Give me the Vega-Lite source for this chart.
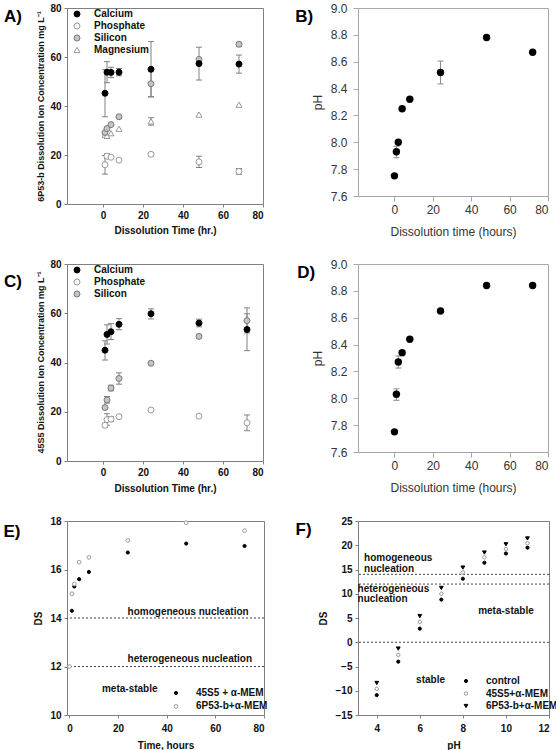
{
"$schema": "https://vega.github.io/schema/vega-lite/v6.json",
"autosize": {"type": "none"},
"padding": {"left": 67, "top": 8, "right": 489, "bottom": 742},
"background": "white",
"bounds": "flush",
"columns": 2,
"spacing": {"row": 60, "column": 94},
"resolve": {"scale": {"shape": "independent", "fill": "independent", "stroke": "independent", "size": "independent", "x": "independent", "y": "independent"}, "legend": {"shape": "independent", "fill": "independent", "stroke": "independent", "size": "independent"}},
"datasets": {
"A": [
{"ion":"Magnesium","t":1,"v":28.3},{"ion":"Magnesium","t":2,"v":27.8},{"ion":"Magnesium","t":4,"v":28.9},{"ion":"Magnesium","t":8,"v":30.7},{"ion":"Magnesium","t":24,"v":33.7,"lo":32.2,"hi":35.2},{"ion":"Magnesium","t":48,"v":36.5},{"ion":"Magnesium","t":68,"v":40.5},
{"ion":"Phosphate","t":1,"v":16.0,"lo":12.2,"hi":19.8},{"ion":"Phosphate","t":2,"v":19.5,"lo":18.6,"hi":20.5},{"ion":"Phosphate","t":4,"v":19.1},{"ion":"Phosphate","t":8,"v":17.9},{"ion":"Phosphate","t":24,"v":20.3,"lo":19.6,"hi":21.0},{"ion":"Phosphate","t":48,"v":17.2,"lo":14.9,"hi":19.5},{"ion":"Phosphate","t":68,"v":13.3,"lo":12.1,"hi":14.5},
{"ion":"Silicon","t":1,"v":29.2},{"ion":"Silicon","t":2,"v":30.8},{"ion":"Silicon","t":4,"v":32.4},{"ion":"Silicon","t":8,"v":35.6},{"ion":"Silicon","t":24,"v":49.1,"lo":43.8,"hi":54.3},{"ion":"Silicon","t":48,"v":59.0},{"ion":"Silicon","t":68,"v":65.2,"lo":64.4,"hi":66.0},
{"ion":"Calcium","t":1,"v":45.2,"lo":35.6,"hi":54.8},{"ion":"Calcium","t":2,"v":53.8,"lo":49.5,"hi":58.1},{"ion":"Calcium","t":4,"v":53.7,"lo":51.6,"hi":55.8},{"ion":"Calcium","t":8,"v":53.8,"lo":52.3,"hi":55.3},{"ion":"Calcium","t":24,"v":55.0,"lo":43.7,"hi":66.3},{"ion":"Calcium","t":48,"v":57.3,"lo":50.6,"hi":64.0},{"ion":"Calcium","t":68,"v":57.1,"lo":53.4,"hi":60.8}
],
"C": [
{"ion":"Phosphate","t":1,"v":14.5,"lo":13.8,"hi":15.3},{"ion":"Phosphate","t":2,"v":16.8,"lo":14.5,"hi":19.2},{"ion":"Phosphate","t":4,"v":17.0,"lo":16.0,"hi":18.0},{"ion":"Phosphate","t":8,"v":18.0},{"ion":"Phosphate","t":24,"v":20.7},{"ion":"Phosphate","t":48,"v":18.2},{"ion":"Phosphate","t":72,"v":15.5,"lo":12.3,"hi":18.7},
{"ion":"Silicon","t":1,"v":21.7},{"ion":"Silicon","t":2,"v":24.8,"lo":23.5,"hi":26.2},{"ion":"Silicon","t":4,"v":29.6,"lo":28.5,"hi":30.8},{"ion":"Silicon","t":8,"v":33.5,"lo":31.2,"hi":35.8},{"ion":"Silicon","t":24,"v":39.7},{"ion":"Silicon","t":48,"v":50.6,"lo":49.8,"hi":51.4},{"ion":"Silicon","t":72,"v":57.0,"lo":52.0,"hi":62.2},
{"ion":"Calcium","t":1,"v":45.0,"lo":41.0,"hi":48.8},{"ion":"Calcium","t":2,"v":51.4,"lo":47.5,"hi":55.3},{"ion":"Calcium","t":4,"v":52.5,"lo":49.3,"hi":55.8},{"ion":"Calcium","t":8,"v":55.5,"lo":53.3,"hi":57.8},{"ion":"Calcium","t":24,"v":59.8,"lo":57.7,"hi":61.8},{"ion":"Calcium","t":48,"v":56.0,"lo":54.5,"hi":57.6},{"ion":"Calcium","t":72,"v":53.4,"lo":44.8,"hi":59.8}
],
"B": [{"t":0,"v":7.75},{"t":1,"v":7.93,"lo":7.885,"hi":7.97},{"t":2,"v":8.0},{"t":4,"v":8.25},{"t":8,"v":8.32},{"t":24,"v":8.52,"lo":8.435,"hi":8.605},{"t":48,"v":8.78},{"t":72,"v":8.67}],
"D": [{"t":0,"v":7.75},{"t":1,"v":8.03,"lo":7.985,"hi":8.07},{"t":2,"v":8.27,"lo":8.225,"hi":8.315},{"t":4,"v":8.34},{"t":8,"v":8.44},{"t":24,"v":8.65},{"t":48,"v":8.84},{"t":72,"v":8.84}],
"E": [
{"s":"45S5 + α-MEM","t":1,"ds":14.3},{"s":"45S5 + α-MEM","t":2,"ds":15.3},{"s":"45S5 + α-MEM","t":4,"ds":15.6},{"s":"45S5 + α-MEM","t":8,"ds":15.9},{"s":"45S5 + α-MEM","t":24,"ds":16.7},{"s":"45S5 + α-MEM","t":48,"ds":17.07},{"s":"45S5 + α-MEM","t":72,"ds":16.97},
{"s":"6P53-b+α-MEM","t":0,"ds":12.0},{"s":"6P53-b+α-MEM","t":1,"ds":15.0},{"s":"6P53-b+α-MEM","t":2,"ds":15.4},{"s":"6P53-b+α-MEM","t":4,"ds":16.3},{"s":"6P53-b+α-MEM","t":8,"ds":16.5},{"s":"6P53-b+α-MEM","t":24,"ds":17.2},{"s":"6P53-b+α-MEM","t":48,"ds":17.93},{"s":"6P53-b+α-MEM","t":72,"ds":17.6}
],
"F": [
{"s":"control","ph":4,"ds":-10.9},{"s":"control","ph":5,"ds":-4.0},{"s":"control","ph":6,"ds":2.8},{"s":"control","ph":7,"ds":8.8},{"s":"control","ph":8,"ds":13.1},{"s":"control","ph":9,"ds":16.4},{"s":"control","ph":10,"ds":18.3},{"s":"control","ph":11,"ds":19.5},
{"s":"45S5+α-MEM","ph":4,"ds":-9.6},{"s":"45S5+α-MEM","ph":5,"ds":-2.6},{"s":"45S5+α-MEM","ph":6,"ds":4.2},{"s":"45S5+α-MEM","ph":7,"ds":10.0},{"s":"45S5+α-MEM","ph":8,"ds":14.4},{"s":"45S5+α-MEM","ph":9,"ds":17.5},{"s":"45S5+α-MEM","ph":10,"ds":19.2},{"s":"45S5+α-MEM","ph":11,"ds":20.4},
{"s":"6P53-b+α-MEM","ph":4,"ds":-8.4},{"s":"6P53-b+α-MEM","ph":5,"ds":-1.3},{"s":"6P53-b+α-MEM","ph":6,"ds":5.4},{"s":"6P53-b+α-MEM","ph":7,"ds":11.2},{"s":"6P53-b+α-MEM","ph":8,"ds":15.4},{"s":"6P53-b+α-MEM","ph":9,"ds":18.5},{"s":"6P53-b+α-MEM","ph":10,"ds":20.2},{"s":"6P53-b+α-MEM","ph":11,"ds":21.4}
]
},
"config": {
"font": "Liberation Sans",
"view": {"stroke": "#808080", "strokeWidth": 1},
"axis": {"grid": false, "domain": false, "labelOverlap": false, "tickColor": "#808080", "tickSize": 3, "labelFont": "Liberation Sans", "labelFontSize": 10, "labelFontWeight": "bold", "labelColor": "#111", "labelPadding": 3, "titleFont": "Liberation Sans", "titleFontSize": 10, "titleFontWeight": "bold", "titleColor": "#111"},
"legend": {"padding": 0, "labelFont": "Liberation Sans", "labelFontSize": 10, "labelFontWeight": "bold", "labelColor": "#111", "symbolStrokeWidth": 1},
"text": {"font": "Liberation Sans"}
},
"concat": [
{"width": 196, "height": 196, "data": {"name": "A"},
"layer": [
{"transform": [{"filter": "isValid(datum.lo)"}], "mark": {"type": "rule", "color": "#808080"},
"encoding": {"x": {"field": "t", "type": "quantitative"}, "y": {"field": "lo", "type": "quantitative"}, "y2": {"field": "hi"}}},
{"transform": [{"filter": "isValid(datum.lo)"}], "mark": {"type": "tick", "orient": "horizontal", "color": "#808080", "size": 6, "thickness": 1, "opacity": 1},
"encoding": {"x": {"field": "t", "type": "quantitative"}, "y": {"field": "lo", "type": "quantitative"}}},
{"transform": [{"filter": "isValid(datum.hi)"}], "mark": {"type": "tick", "orient": "horizontal", "color": "#808080", "size": 6, "thickness": 1, "opacity": 1},
"encoding": {"x": {"field": "t", "type": "quantitative"}, "y": {"field": "hi", "type": "quantitative"}}},
{"mark": {"type": "point", "filled": true, "size": 36, "strokeWidth": 1, "opacity": 1},
"encoding": {
"x": {"field": "t", "type": "quantitative", "scale": {"domain": [-18, 80], "nice": false, "zero": false}, "axis": {"values": [0, 20, 40, 60, 80], "tickCount": 30, "format": "d", "title": "Dissolution Time (hr.)", "titleY": 26, "titleBaseline": "middle"}},
"y": {"field": "v", "type": "quantitative", "scale": {"domain": [0, 80], "nice": false}, "axis": {"values": [0, 20, 40, 60, 80], "tickCount": 30, "format": "d", "title": "6P53-b Dissolution Ion Concentration mg L⁻¹", "titleFontSize": 9, "titleX": -27, "titleY": 98, "titleBaseline": "middle", "titleAlign": "center"}},
"shape": {"field": "ion", "type": "nominal", "scale": {"domain": ["Calcium", "Phosphate", "Silicon", "Magnesium"], "range": ["circle", "circle", "circle", "triangle-up"]}, "legend": {"orient": "none", "legendX": 5, "legendY": 1, "title": null, "symbolSize": 36, "labelOffset": 12, "rowPadding": 2}},
"fill": {"field": "ion", "type": "nominal", "scale": {"domain": ["Calcium", "Phosphate", "Silicon", "Magnesium"], "range": ["#000000", "#ffffff", "#c4c4c4", "#ffffff"]}, "legend": {"orient": "none", "legendX": 5, "legendY": 1, "title": null, "symbolSize": 36, "labelOffset": 12, "rowPadding": 2}},
"stroke": {"field": "ion", "type": "nominal", "scale": {"domain": ["Calcium", "Phosphate", "Silicon", "Magnesium"], "range": ["#000000", "#9a9a9a", "#7a7a7a", "#9a9a9a"]}, "legend": {"orient": "none", "legendX": 5, "legendY": 1, "title": null, "symbolSize": 36, "labelOffset": 12, "rowPadding": 2}}
}},
{"data": {"values": [{}]}, "mark": {"type": "text", "fontSize": 17, "fontWeight": "bold", "align": "center", "baseline": "middle", "color": "#000"},
"encoding": {"x": {"datum": -45}, "y": {"datum": 76.3}, "text": {"value": "A)"}}}
]},
{"width": 190, "height": 188, "data": {"name": "B"}, "view": {"stroke": "#a6a6a6"},
"layer": [
{"transform": [{"filter": "isValid(datum.lo)"}], "mark": {"type": "rule", "color": "#8a8a8a"},
"encoding": {"x": {"field": "t", "type": "quantitative"}, "y": {"field": "lo", "type": "quantitative"}, "y2": {"field": "hi"}}},
{"transform": [{"filter": "isValid(datum.lo)"}], "mark": {"type": "tick", "orient": "horizontal", "color": "#8a8a8a", "size": 6, "thickness": 1, "opacity": 1},
"encoding": {"x": {"field": "t", "type": "quantitative"}, "y": {"field": "lo", "type": "quantitative"}}},
{"transform": [{"filter": "isValid(datum.hi)"}], "mark": {"type": "tick", "orient": "horizontal", "color": "#8a8a8a", "size": 6, "thickness": 1, "opacity": 1},
"encoding": {"x": {"field": "t", "type": "quantitative"}, "y": {"field": "hi", "type": "quantitative"}}},
{"mark": {"type": "point", "filled": true, "size": 55, "color": "#000", "opacity": 1},
"encoding": {
"x": {"field": "t", "type": "quantitative", "scale": {"domain": [-19, 80], "nice": false, "zero": false}, "axis": {"values": [0, 20, 40, 60, 80], "tickCount": 30, "format": "d", "title": "Dissolution time (hours)", "labelFontWeight": "normal", "labelFontSize": 12, "labelColor": "#333", "titleFontWeight": "normal", "titleFontSize": 12, "titleColor": "#333", "tickSize": 5, "tickColor": "#a6a6a6", "labelPadding": 3, "titleY": 35, "titleBaseline": "middle"}},
"y": {"field": "v", "type": "quantitative", "scale": {"domain": [7.6, 9.0], "nice": false, "zero": false}, "axis": {"values": [7.6, 7.8, 8.0, 8.2, 8.4, 8.6, 8.8, 9.0], "tickCount": 30, "format": ".1f", "title": "pH", "labelFontWeight": "normal", "labelFontSize": 12, "labelColor": "#333", "titleFontWeight": "normal", "titleFontSize": 12, "titleColor": "#333", "tickSize": 5, "tickColor": "#a6a6a6", "labelPadding": 6, "titleX": -41, "titleY": 94, "titleBaseline": "middle", "titleAlign": "center"}}
}},
{"data": {"values": [{}]}, "mark": {"type": "text", "fontSize": 17, "fontWeight": "bold", "align": "center", "baseline": "middle", "color": "#000"},
"encoding": {"x": {"datum": -47}, "y": {"datum": 8.933}, "text": {"value": "B)"}}}
]},
{"width": 196, "height": 197, "data": {"name": "C"},
"layer": [
{"transform": [{"filter": "isValid(datum.lo)"}], "mark": {"type": "rule", "color": "#808080"},
"encoding": {"x": {"field": "t", "type": "quantitative"}, "y": {"field": "lo", "type": "quantitative"}, "y2": {"field": "hi"}}},
{"transform": [{"filter": "isValid(datum.lo)"}], "mark": {"type": "tick", "orient": "horizontal", "color": "#808080", "size": 6, "thickness": 1, "opacity": 1},
"encoding": {"x": {"field": "t", "type": "quantitative"}, "y": {"field": "lo", "type": "quantitative"}}},
{"transform": [{"filter": "isValid(datum.hi)"}], "mark": {"type": "tick", "orient": "horizontal", "color": "#808080", "size": 6, "thickness": 1, "opacity": 1},
"encoding": {"x": {"field": "t", "type": "quantitative"}, "y": {"field": "hi", "type": "quantitative"}}},
{"mark": {"type": "point", "filled": true, "size": 36, "strokeWidth": 1, "opacity": 1},
"encoding": {
"x": {"field": "t", "type": "quantitative", "scale": {"domain": [-18, 80], "nice": false, "zero": false}, "axis": {"values": [0, 20, 40, 60, 80], "tickCount": 30, "format": "d", "title": "Dissolution Time (hr.)", "titleY": 27, "titleBaseline": "middle"}},
"y": {"field": "v", "type": "quantitative", "scale": {"domain": [0, 80], "nice": false}, "axis": {"values": [0, 20, 40, 60, 80], "tickCount": 30, "format": "d", "title": "45S5 Dissolution Ion Concentration mg L⁻¹", "titleFontSize": 9, "titleX": -27, "titleY": 98, "titleBaseline": "middle", "titleAlign": "center"}},
"shape": {"field": "ion", "type": "nominal", "scale": {"domain": ["Calcium", "Phosphate", "Silicon"], "range": ["circle", "circle", "circle"]}, "legend": {"orient": "none", "legendX": 5, "legendY": 1, "title": null, "symbolSize": 36, "labelOffset": 12, "rowPadding": 2}},
"fill": {"field": "ion", "type": "nominal", "scale": {"domain": ["Calcium", "Phosphate", "Silicon"], "range": ["#000000", "#ffffff", "#c4c4c4"]}, "legend": {"orient": "none", "legendX": 5, "legendY": 1, "title": null, "symbolSize": 36, "labelOffset": 12, "rowPadding": 2}},
"stroke": {"field": "ion", "type": "nominal", "scale": {"domain": ["Calcium", "Phosphate", "Silicon"], "range": ["#000000", "#9a9a9a", "#7a7a7a"]}, "legend": {"orient": "none", "legendX": 5, "legendY": 1, "title": null, "symbolSize": 36, "labelOffset": 12, "rowPadding": 2}}
}},
{"data": {"values": [{}]}, "mark": {"type": "text", "fontSize": 17, "fontWeight": "bold", "align": "center", "baseline": "middle", "color": "#000"},
"encoding": {"x": {"datum": -45}, "y": {"datum": 72.7}, "text": {"value": "C)"}}}
]},
{"width": 190, "height": 188, "data": {"name": "D"}, "view": {"stroke": "#a6a6a6"},
"layer": [
{"transform": [{"filter": "isValid(datum.lo)"}], "mark": {"type": "rule", "color": "#8a8a8a"},
"encoding": {"x": {"field": "t", "type": "quantitative"}, "y": {"field": "lo", "type": "quantitative"}, "y2": {"field": "hi"}}},
{"transform": [{"filter": "isValid(datum.lo)"}], "mark": {"type": "tick", "orient": "horizontal", "color": "#8a8a8a", "size": 6, "thickness": 1, "opacity": 1},
"encoding": {"x": {"field": "t", "type": "quantitative"}, "y": {"field": "lo", "type": "quantitative"}}},
{"transform": [{"filter": "isValid(datum.hi)"}], "mark": {"type": "tick", "orient": "horizontal", "color": "#8a8a8a", "size": 6, "thickness": 1, "opacity": 1},
"encoding": {"x": {"field": "t", "type": "quantitative"}, "y": {"field": "hi", "type": "quantitative"}}},
{"mark": {"type": "point", "filled": true, "size": 55, "color": "#000", "opacity": 1},
"encoding": {
"x": {"field": "t", "type": "quantitative", "scale": {"domain": [-19, 80], "nice": false, "zero": false}, "axis": {"values": [0, 20, 40, 60, 80], "tickCount": 30, "format": "d", "title": "Dissolution time (hours)", "labelFontWeight": "normal", "labelFontSize": 12, "labelColor": "#333", "titleFontWeight": "normal", "titleFontSize": 12, "titleColor": "#333", "tickSize": 5, "tickColor": "#a6a6a6", "labelPadding": 3, "titleY": 35, "titleBaseline": "middle"}},
"y": {"field": "v", "type": "quantitative", "scale": {"domain": [7.6, 9.0], "nice": false, "zero": false}, "axis": {"values": [7.6, 7.8, 8.0, 8.2, 8.4, 8.6, 8.8, 9.0], "tickCount": 30, "format": ".1f", "title": "pH", "labelFontWeight": "normal", "labelFontSize": 12, "labelColor": "#333", "titleFontWeight": "normal", "titleFontSize": 12, "titleColor": "#333", "tickSize": 5, "tickColor": "#a6a6a6", "labelPadding": 6, "titleX": -41, "titleY": 94, "titleBaseline": "middle", "titleAlign": "center"}}
}},
{"data": {"values": [{}]}, "mark": {"type": "text", "fontSize": 17, "fontWeight": "bold", "align": "center", "baseline": "middle", "color": "#000"},
"encoding": {"x": {"datum": -46}, "y": {"datum": 8.933}, "text": {"value": "D)"}}}
]},
{"width": 197, "height": 194, "data": {"name": "E"},
"layer": [
{"data": {"values": [{}]}, "mark": {"type": "rule", "color": "#444", "strokeDash": [2, 2]}, "encoding": {"y": {"datum": 14}}},
{"data": {"values": [{}]}, "mark": {"type": "rule", "color": "#444", "strokeDash": [2, 2]}, "encoding": {"y": {"datum": 12}}},
{"mark": {"type": "point", "filled": true, "strokeWidth": 1, "opacity": 1},
"encoding": {
"x": {"field": "t", "type": "quantitative", "scale": {"domain": [-1, 80], "nice": false, "zero": false}, "axis": {"values": [0, 20, 40, 60, 80], "tickCount": 30, "format": "d", "title": "Time, hours", "labelPadding": 5, "titleY": 30, "titleBaseline": "middle"}},
"y": {"field": "ds", "type": "quantitative", "scale": {"domain": [10, 18], "nice": false, "zero": false}, "axis": {"values": [10, 12, 14, 16, 18], "tickCount": 30, "format": "d", "title": "DS", "titleX": -29, "titleY": 97, "titleBaseline": "middle", "titleAlign": "center"}},
"shape": {"field": "s", "type": "nominal", "scale": {"domain": ["45S5 + α-MEM", "6P53-b+α-MEM"], "range": ["circle", "circle"]}, "legend": {"orient": "none", "legendX": 104, "legendY": 167, "title": null, "labelOffset": 15, "rowPadding": 3.4}},
"size": {"field": "s", "type": "nominal", "scale": {"domain": ["45S5 + α-MEM", "6P53-b+α-MEM"], "range": [10, 14]}, "legend": {"orient": "none", "legendX": 104, "legendY": 167, "title": null, "labelOffset": 15, "rowPadding": 3.4}},
"fill": {"field": "s", "type": "nominal", "scale": {"domain": ["45S5 + α-MEM", "6P53-b+α-MEM"], "range": ["#000000", "#ffffff"]}, "legend": {"orient": "none", "legendX": 104, "legendY": 167, "title": null, "labelOffset": 15, "rowPadding": 3.4}},
"stroke": {"field": "s", "type": "nominal", "scale": {"domain": ["45S5 + α-MEM", "6P53-b+α-MEM"], "range": ["#000000", "#9a9a9a"]}, "legend": {"orient": "none", "legendX": 104, "legendY": 167, "title": null, "labelOffset": 15, "rowPadding": 3.4}}
}},
{"data": {"values": [{}]}, "mark": {"type": "text", "fontSize": 10, "fontWeight": "bold", "align": "center", "baseline": "middle", "color": "#111"},
"encoding": {"x": {"datum": 48.8}, "y": {"datum": 14.26}, "text": {"value": "homogeneous nucleation"}}},
{"data": {"values": [{}]}, "mark": {"type": "text", "fontSize": 10, "fontWeight": "bold", "align": "center", "baseline": "middle", "color": "#111"},
"encoding": {"x": {"datum": 49.5}, "y": {"datum": 12.3}, "text": {"value": "heterogeneous nucleation"}}},
{"data": {"values": [{}]}, "mark": {"type": "text", "fontSize": 10, "fontWeight": "bold", "align": "center", "baseline": "middle", "color": "#111"},
"encoding": {"x": {"datum": 24.8}, "y": {"datum": 11.06}, "text": {"value": "meta-stable"}}},
{"data": {"values": [{}]}, "mark": {"type": "text", "fontSize": 17, "fontWeight": "bold", "align": "center", "baseline": "middle", "color": "#000"},
"encoding": {"x": {"datum": -23.6}, "y": {"datum": 17.55}, "text": {"value": "E)"}}}
]},
{"width": 191, "height": 194, "data": {"name": "F"},
"layer": [
{"data": {"values": [{}]}, "mark": {"type": "rule", "color": "#444", "strokeDash": [2, 2]}, "encoding": {"y": {"datum": 14}}},
{"data": {"values": [{}]}, "mark": {"type": "rule", "color": "#444", "strokeDash": [2, 2]}, "encoding": {"y": {"datum": 12}}},
{"data": {"values": [{}]}, "mark": {"type": "rule", "color": "#444", "strokeDash": [2, 2]}, "encoding": {"y": {"datum": 0}}},
{"mark": {"type": "point", "filled": true, "strokeWidth": 1, "opacity": 1},
"encoding": {
"x": {"field": "ph", "type": "quantitative", "scale": {"domain": [3.13, 12], "nice": false, "zero": false}, "axis": {"values": [4, 6, 8, 10, 12], "tickCount": 30, "format": "d", "title": "pH", "labelPadding": 5, "titleY": 30, "titleBaseline": "middle"}},
"y": {"field": "ds", "type": "quantitative", "scale": {"domain": [-15, 25], "nice": false, "zero": false}, "axis": {"values": [-15, -10, -5, 0, 5, 10, 15, 20, 25], "tickCount": 30, "format": "d", "title": "DS", "titleX": -35, "titleY": 97, "titleBaseline": "middle", "titleAlign": "center"}},
"shape": {"field": "s", "type": "nominal", "scale": {"domain": ["control", "45S5+α-MEM", "6P53-b+α-MEM"], "range": ["circle", "circle", "triangle-down"]}, "legend": {"orient": "none", "legendX": 103, "legendY": 155, "title": null, "labelOffset": 15, "rowPadding": 2.5}},
"size": {"field": "s", "type": "nominal", "scale": {"domain": ["control", "45S5+α-MEM", "6P53-b+α-MEM"], "range": [10, 14, 14]}, "legend": {"orient": "none", "legendX": 103, "legendY": 155, "title": null, "labelOffset": 15, "rowPadding": 2.5}},
"fill": {"field": "s", "type": "nominal", "scale": {"domain": ["control", "45S5+α-MEM", "6P53-b+α-MEM"], "range": ["#000000", "#ffffff", "#000000"]}, "legend": {"orient": "none", "legendX": 103, "legendY": 155, "title": null, "labelOffset": 15, "rowPadding": 2.5}},
"stroke": {"field": "s", "type": "nominal", "scale": {"domain": ["control", "45S5+α-MEM", "6P53-b+α-MEM"], "range": ["#000000", "#9a9a9a", "#000000"]}, "legend": {"orient": "none", "legendX": 103, "legendY": 155, "title": null, "labelOffset": 15, "rowPadding": 2.5}}
}},
{"data": {"values": [{}]}, "mark": {"type": "text", "fontSize": 10, "fontWeight": "bold", "align": "left", "baseline": "middle", "color": "#111"},
"encoding": {"x": {"datum": 3.41}, "y": {"datum": 17.4}, "text": {"value": "homogeneous"}}},
{"data": {"values": [{}]}, "mark": {"type": "text", "fontSize": 10, "fontWeight": "bold", "align": "left", "baseline": "middle", "color": "#111"},
"encoding": {"x": {"datum": 3.41}, "y": {"datum": 15.2}, "text": {"value": "nucleation"}}},
{"data": {"values": [{}]}, "mark": {"type": "text", "fontSize": 10, "fontWeight": "bold", "align": "left", "baseline": "middle", "color": "#111"},
"encoding": {"x": {"datum": 3.11}, "y": {"datum": 11.07}, "text": {"value": "heterogeneous"}}},
{"data": {"values": [{}]}, "mark": {"type": "text", "fontSize": 10, "fontWeight": "bold", "align": "left", "baseline": "middle", "color": "#111"},
"encoding": {"x": {"datum": 3.11}, "y": {"datum": 8.86}, "text": {"value": "nucleation"}}},
{"data": {"values": [{}]}, "mark": {"type": "text", "fontSize": 10, "fontWeight": "bold", "align": "center", "baseline": "middle", "color": "#111"},
"encoding": {"x": {"datum": 10.0}, "y": {"datum": 6.45}, "text": {"value": "meta-stable"}}},
{"data": {"values": [{}]}, "mark": {"type": "text", "fontSize": 10, "fontWeight": "bold", "align": "center", "baseline": "middle", "color": "#111"},
"encoding": {"x": {"datum": 6.5}, "y": {"datum": -7.8}, "text": {"value": "stable"}}},
{"data": {"values": [{}]}, "mark": {"type": "text", "fontSize": 17, "fontWeight": "bold", "align": "center", "baseline": "middle", "color": "#000"},
"encoding": {"x": {"datum": 0.6}, "y": {"datum": 23.13}, "text": {"value": "F)"}}}
]}
]
}
